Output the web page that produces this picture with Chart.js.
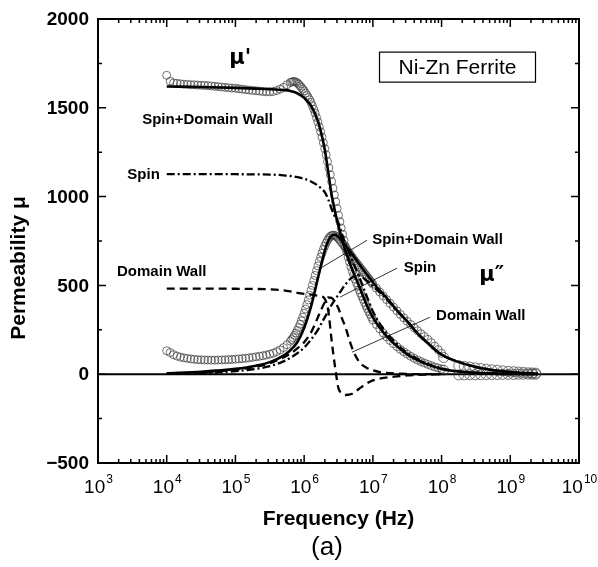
<!DOCTYPE html>
<html>
<head>
<meta charset="utf-8">
<script src="https://cdn.jsdelivr.net/npm/chart.js@4.4.0/dist/chart.umd.min.js"></script>
<style>
  html, body { margin: 0; padding: 0; background: #fff; }
  #wrap { width: 598px; height: 567px; }
</style>
</head>
<body>
<div id="wrap"><canvas id="chart" width="598" height="567"></canvas></div>
<script>
// ── Data (log10 of frequency in Hz, permeability values) ─────
// fitted curves: total (solid), spin (dash-dot), domain wall (dashed)
const fitLogF = [4.0, 4.5, 5.0, 5.3, 5.5, 5.7, 5.8, 5.9, 6.0, 6.1, 6.2, 6.25, 6.3, 6.35, 6.4, 6.45,
                 6.5, 6.55, 6.6, 6.7, 6.8, 6.9, 7.0, 7.1, 7.2, 7.35, 7.5, 7.65, 7.8, 8.0, 8.2, 8.5, 8.8, 9.1, 9.4];
const fitMuReal = [1620, 1617, 1612, 1608, 1605, 1600, 1595, 1582, 1556, 1512, 1425, 1355, 1265, 1140, 1010, 915,
                   835, 760, 695, 590, 495, 400, 320, 262, 215, 158, 112, 80, 54, 30, 17, 8, 3, 1, 0];
const fitMuImag = [5, 14, 30, 48, 68, 105, 135, 180, 260, 380, 540, 620, 695, 750, 780, 785,
                   772, 750, 725, 675, 620, 568, 518, 472, 430, 360, 298, 230, 175, 110, 75, 40, 20, 9, 4];
const spinMuReal = [1126, 1126, 1126, 1125, 1124, 1120, 1116, 1110, 1100, 1085, 1062, 1045, 1025, 985, 930, 885,
                    850, 790, 735, 640, 550, 450, 355, 285, 232, 170, 120, 86, 58, 32, 18, 8, 3, 1, 0];
const spinMuImag = [2, 6, 17, 30, 45, 72, 92, 118, 150, 195, 250, 285, 320, 355, 390, 420,
                    448, 478, 505, 545, 555, 530, 496, 460, 423, 357, 297, 230, 175, 110, 75, 40, 20, 9, 4];
const dwMuReal = [482, 482, 481, 480, 478, 472, 466, 458, 452, 448, 442, 438, 425, 360, 190, 40,
                  -80, -105, -117, -110, -82, -55, -35, -25, -19, -12, -7, -4, -2, -1, 0, 0, 0, 0, 0];
const dwMuImag = [3, 9, 25, 42, 62, 95, 115, 145, 180, 235, 320, 365, 405, 432, 430, 405,
                  370, 315, 265, 145, 70, 38, 22, 12, 7, 3, 1, 0, 0, 0, 0, 0, 0, 0, 0];

// measured points (impedance analyser range)
const measLogF = [4.00, 4.05, 4.10, 4.15, 4.20, 4.25, 4.30, 4.35, 4.40, 4.45, 4.50, 4.55, 4.60, 4.65, 4.70, 4.75,
  4.80, 4.85, 4.90, 4.95, 5.00, 5.05, 5.10, 5.15, 5.20, 5.25, 5.30, 5.35, 5.40, 5.45, 5.50, 5.55, 5.60, 5.65,
  5.70, 5.75, 5.80, 5.82, 5.84, 5.86, 5.88, 5.90, 5.92, 5.94, 5.96, 5.98, 6.00, 6.02, 6.04, 6.06, 6.08, 6.10,
  6.12, 6.14, 6.16, 6.18, 6.20, 6.22, 6.24, 6.26, 6.28, 6.30, 6.32, 6.34, 6.36, 6.38, 6.40, 6.42, 6.44, 6.46,
  6.48, 6.50, 6.52, 6.54, 6.56, 6.58, 6.60, 6.62, 6.64, 6.66, 6.68, 6.70, 6.72, 6.74, 6.76, 6.78, 6.80, 6.82,
  6.84, 6.86, 6.88, 6.90, 6.92, 6.94, 6.96, 6.98, 7.00, 7.05, 7.10, 7.15, 7.20, 7.25, 7.30, 7.35, 7.40, 7.45,
  7.50, 7.55, 7.60, 7.65, 7.70, 7.75, 7.80, 7.85, 7.90, 7.95, 8.00];
const measMuReal = [1683, 1650, 1640, 1638, 1635, 1633, 1632, 1630, 1630, 1628, 1627, 1626, 1625, 1623, 1621, 1619,
  1617, 1615, 1613, 1611, 1610, 1607, 1605, 1602, 1600, 1598, 1596, 1594, 1592, 1590, 1590, 1592, 1597, 1605,
  1615, 1630, 1643, 1645, 1648, 1648, 1645, 1640, 1633, 1624, 1615, 1605, 1595, 1583, 1571, 1558, 1545, 1530,
  1512, 1492, 1470, 1445, 1420, 1393, 1365, 1335, 1303, 1270, 1235, 1198, 1161, 1123, 1085, 1047, 1009, 971,
  933, 895, 859, 823, 788, 754, 720, 689, 659, 632, 605, 580, 558, 536, 515, 495, 475, 457,
  439, 421, 403, 385, 369, 353, 337, 321, 305, 280, 255, 232, 210, 190, 172, 155, 140, 126,
  113, 101, 90, 80, 71, 63, 55, 48, 41, 35, 29];
const measMuImag = [132, 122, 110, 102, 96, 92, 89, 86, 84, 82, 81, 80, 80, 79, 79, 80,
  80, 81, 82, 83, 85, 86, 88, 90, 92, 95, 98, 101, 104, 108, 113, 119, 127, 137,
  150, 166, 186, 195, 206, 218, 232, 247, 263, 281, 300, 321, 343, 367, 392, 418, 445, 472,
  500, 528, 556, 583, 610, 635, 659, 682, 703, 722, 739, 754, 766, 775, 781, 783, 782, 778,
  772, 764, 755, 745, 735, 724, 713, 702, 691, 680, 669, 658, 648, 637, 627, 617, 607, 597,
  587, 577, 567, 557, 547, 537, 527, 517, 507, 485, 463, 441, 420, 399, 378, 357, 337, 317,
  298, 280, 262, 245, 228, 212, 196, 178, 158, 138, 118];

// measured points (high frequency range)
const hfLogF = [8.03, 8.25, 8.33, 8.41, 8.49, 8.57, 8.65, 8.73, 8.81, 8.89, 8.97, 9.05, 9.12, 9.19, 9.26, 9.32, 9.37];
const hfMuReal = [23, -4, -4, -3, -3, -3, -2, -2, -2, -1, -1, -1, 0, 0, 0, 0, 0];
const hfMuImag = [94, 48, 44, 40, 36, 32, 28, 25, 22, 19, 16, 14, 12, 10, 8, 7, 6];

// axis ticks
const xTickExps = [3, 4, 5, 6, 7, 8, 9, 10];
const xMinorMults = [2, 3, 4, 5, 6, 7, 8, 9];
const yMajorTicks = [-500, 0, 500, 1000, 1500, 2000];
const yMinorTicks = [-250, 250, 750, 1250, 1750];

// text annotations [text, logF, mu, align, font]
const LABEL_FONT = 'bold 15px "Liberation Sans", Arial, sans-serif';
const MU_FONT = 'bold 21px "DejaVu Sans", "Liberation Sans", sans-serif';
const annotations = [
    ['μ\'', 5.07, 1779, 'center', MU_FONT],
    ['Spin+Domain Wall', 4.594, 1430, 'center', LABEL_FONT],
    ['Spin', 3.90, 1120, 'right', LABEL_FONT],
    ['Domain Wall', 3.277, 574, 'left', LABEL_FONT],
    ['Spin+Domain Wall', 6.99, 754, 'left', LABEL_FONT],
    ['Spin', 7.45, 597, 'left', LABEL_FONT],
    ['μ″', 8.73, 557, 'center', MU_FONT],
    ['Domain Wall', 7.92, 327, 'left', LABEL_FONT]
];
// leader lines [logF1, mu1, logF2, mu2]
const leaders = [
    [6.915, 754, 6.26, 602],
    [7.352, 597, 6.522, 434],
    [7.832, 321, 6.697, 124]
];

// ── Helpers ─────────────────────────────────────────────────
function pts(logs, vals) {
    return logs.map((l, i) => ({ x: Math.pow(10, l), y: vals[i] }));
}

function lineSet(label, logs, vals, dash, width) {
    return {
        label,
        data: pts(logs, vals),
        borderColor: '#000',
        borderWidth: width,
        borderDash: dash,
        pointRadius: 0,
        fill: false,
        tension: 0,
        cubicInterpolationMode: 'monotone',
        order: 0
    };
}

function circleSet(label, logs, vals, r) {
    return {
        label,
        data: pts(logs, vals),
        showLine: false,
        pointStyle: 'circle',
        pointRadius: r,
        pointBorderWidth: 0.7,
        pointBorderColor: '#3a3a3a',
        pointBackgroundColor: 'rgba(255,255,255,0)',
        order: 1
    };
}

const FONT = '"Liberation Sans", Arial, sans-serif';
const DASHED = [8, 5];
const DASHDOT = [8, 3, 2, 3];

// ── Axes, frame and texts ───────────────────────────────────
const framePlugin = {
    id: 'frame',
    beforeDatasetsDraw(chart) {
        const { ctx, chartArea: a, scales: { y } } = chart;
        ctx.save();
        ctx.strokeStyle = '#000';
        ctx.lineWidth = 2;
        ctx.beginPath();
        ctx.moveTo(a.left, y.getPixelForValue(0));
        ctx.lineTo(a.right, y.getPixelForValue(0));
        ctx.stroke();
        ctx.restore();
    },
    afterDatasetsDraw(chart) {
        const { ctx, chartArea: a, scales: { x, y } } = chart;
        ctx.save();
        ctx.strokeStyle = '#000';
        ctx.lineWidth = 1.5;
        ctx.beginPath();
        // x ticks (bottom and top, pointing inward)
        xTickExps.forEach(e => {
            const px = x.getPixelForValue(Math.pow(10, e));
            ctx.moveTo(px, a.bottom); ctx.lineTo(px, a.bottom - 8);
            ctx.moveTo(px, a.top); ctx.lineTo(px, a.top + 8);
            if (e < 10) {
                xMinorMults.forEach(m => {
                    const pm = x.getPixelForValue(m * Math.pow(10, e));
                    ctx.moveTo(pm, a.bottom); ctx.lineTo(pm, a.bottom - 4);
                    ctx.moveTo(pm, a.top); ctx.lineTo(pm, a.top + 4);
                });
            }
        });
        // y ticks (left and right, pointing inward)
        yMajorTicks.forEach(v => {
            const py = y.getPixelForValue(v);
            ctx.moveTo(a.left, py); ctx.lineTo(a.left + 8, py);
            ctx.moveTo(a.right, py); ctx.lineTo(a.right - 8, py);
        });
        yMinorTicks.forEach(v => {
            const py = y.getPixelForValue(v);
            ctx.moveTo(a.left, py); ctx.lineTo(a.left + 4, py);
            ctx.moveTo(a.right, py); ctx.lineTo(a.right - 4, py);
        });
        ctx.stroke();
        // frame
        ctx.lineWidth = 2;
        ctx.strokeRect(a.left, a.top, a.right - a.left, a.bottom - a.top);

        // leader lines
        ctx.lineWidth = 0.8;
        ctx.beginPath();
        leaders.forEach(([l1, v1, l2, v2]) => {
            ctx.moveTo(x.getPixelForValue(Math.pow(10, l1)), y.getPixelForValue(v1));
            ctx.lineTo(x.getPixelForValue(Math.pow(10, l2)), y.getPixelForValue(v2));
        });
        ctx.stroke();
        ctx.restore();
    },
    afterDraw(chart) {
        const { ctx, chartArea: a, scales: { x, y } } = chart;
        ctx.save();
        ctx.fillStyle = '#000';

        // y tick labels
        ctx.font = 'bold 19px ' + FONT;
        ctx.textAlign = 'right';
        ctx.textBaseline = 'middle';
        yMajorTicks.forEach(v => {
            const txt = v < 0 ? '\u2212' + Math.abs(v) : String(v);
            ctx.fillText(txt, a.left - 9, y.getPixelForValue(v) + 1);
        });

        // x tick labels: 10 with raised exponent
        ctx.textAlign = 'left';
        ctx.textBaseline = 'alphabetic';
        xTickExps.forEach(e => {
            const px = x.getPixelForValue(Math.pow(10, e));
            ctx.font = '19px ' + FONT;
            const w1 = ctx.measureText('10').width;
            ctx.font = '12px ' + FONT;
            const w2 = ctx.measureText(String(e)).width;
            const start = px - (w1 + w2) / 2;
            ctx.font = '19px ' + FONT;
            ctx.fillText('10', start, a.bottom + 30);
            ctx.font = '12px ' + FONT;
            ctx.fillText(String(e), start + w1 + 1, a.bottom + 20);
        });

        // axis titles
        ctx.font = 'bold 21px ' + FONT;
        ctx.textAlign = 'center';
        ctx.fillText('Frequency (Hz)', (a.left + a.right) / 2, a.bottom + 62);
        ctx.font = '26px ' + FONT;
        ctx.fillText('(a)', 327, a.bottom + 92);
        ctx.save();
        ctx.translate(19, 268);
        ctx.rotate(-Math.PI / 2);
        ctx.font = 'bold 21px ' + FONT;
        ctx.textBaseline = 'middle';
        ctx.fillText('Permeability \u03bc', 0, 0);
        ctx.restore();

        // annotations
        ctx.textBaseline = 'middle';
        annotations.forEach(([txt, l, v, align, font]) => {
            ctx.font = font;
            ctx.textAlign = align;
            ctx.fillText(txt, x.getPixelForValue(Math.pow(10, l)), y.getPixelForValue(v));
        });

        // sample name box
        const bx = x.getPixelForValue(Math.pow(10, 8.232));
        const by = y.getPixelForValue(1729);
        ctx.font = '21px ' + FONT;
        ctx.textAlign = 'center';
        const tw = ctx.measureText('Ni-Zn Ferrite').width;
        ctx.fillStyle = '#fff';
        ctx.fillRect(bx - 78, by - 15, 156, 30);
        ctx.strokeStyle = '#000';
        ctx.lineWidth = 1.2;
        ctx.strokeRect(bx - 78, by - 15, 156, 30);
        ctx.fillStyle = '#000';
        ctx.fillText('Ni-Zn Ferrite', bx, by + 1, Math.max(tw, 140));
        ctx.restore();
    }
};

// ── Chart ───────────────────────────────────────────────────
const ctx = document.getElementById('chart').getContext('2d');
new Chart(ctx, {
    type: 'line',
    data: {
        datasets: [
            lineSet('fit mu real', fitLogF, fitMuReal, [], 2.6),
            lineSet('fit mu imag', fitLogF, fitMuImag, [], 2.6),
            lineSet('spin mu real', fitLogF, spinMuReal, DASHDOT, 2.3),
            lineSet('spin mu imag', fitLogF, spinMuImag, DASHDOT, 2.3),
            lineSet('dw mu real', fitLogF.slice(0, 30), dwMuReal.slice(0, 30), DASHED, 2.3),
            lineSet('dw mu imag', fitLogF.slice(0, 30), dwMuImag.slice(0, 30), DASHED, 2.3),
            circleSet('meas mu real', measLogF, measMuReal, 4),
            circleSet('meas mu imag', measLogF, measMuImag, 4),
            circleSet('hf mu real', hfLogF, hfMuReal, 5),
            circleSet('hf mu imag', hfLogF, hfMuImag, 5)
        ]
    },
    options: {
        responsive: false,
        animation: false,
        layout: { padding: { left: 98, right: 19, top: 19, bottom: 104 } },
        plugins: {
            legend: { display: false },
            tooltip: { enabled: false }
        },
        scales: {
            x: { type: 'logarithmic', min: 1e3, max: 1e10, display: false },
            y: { type: 'linear', min: -500, max: 2000, display: false }
        }
    },
    plugins: [framePlugin]
});
</script>
</body>
</html>
